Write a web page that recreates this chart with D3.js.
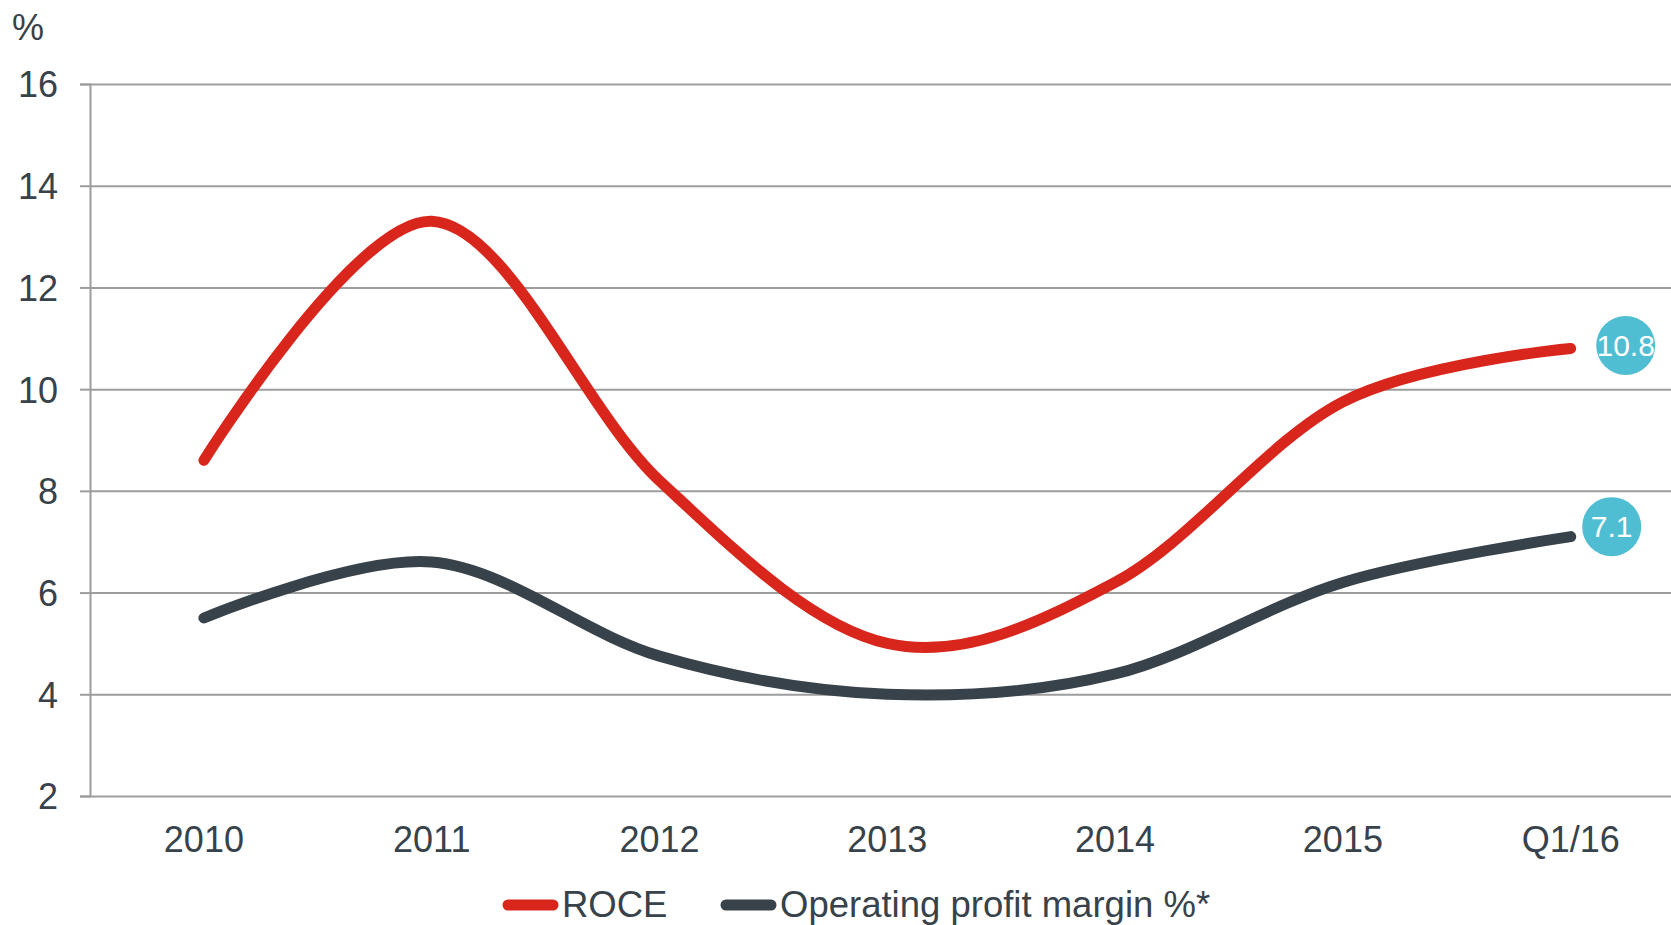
<!DOCTYPE html>
<html><head><meta charset="utf-8">
<script src="https://cdn.jsdelivr.net/npm/d3@7"></script>
<style>
html,body{margin:0;padding:0;background:#fff;}
svg{display:block;font-family:"Liberation Sans",Arial,sans-serif;}
</style></head>
<body>
<svg id="chart" width="1671" height="925"></svg>
<script>
const categories = ["2010","2011","2012","2013","2014","2015","Q1/16"];
const roce = [8.6, 13.3, 8.2, 5.0, 6.2, 9.75, 10.8];
const opMargin = [5.5, 6.6, 4.75, 4.0, 4.4, 6.2, 7.1];
const yTicks = [2,4,6,8,10,12,14,16];
const seriesNames = ["ROCE","Operating profit margin %*"];
const lastLabels = ["10.8","7.1"];

const W = 1671, H = 925;
const svg = d3.select("#chart");
const plotLeft = 90, plotTop = 84, plotBottom = 796;
const band = 227.8;

const x = d3.scaleBand().domain(categories).range([plotLeft, plotLeft + band*categories.length]).padding(0);
const cx = d => x(d) + x.bandwidth()/2;
const y = d3.scaleLinear().domain([2,16]).range([plotBottom, plotTop]);

const textCol = "#37424a", gridCol = "#9d9d9d";

// gridlines + y axis ticks
const yAxis = d3.axisLeft(y).tickValues(yTicks).tickSize(10).tickPadding(22).tickFormat(d3.format("d"));
const gy = svg.append("g").attr("transform", `translate(${plotLeft},0)`).call(yAxis);
gy.select(".domain").attr("stroke", gridCol).attr("stroke-width", 2);
gy.selectAll(".tick line").attr("stroke", gridCol).attr("stroke-width", 2);
gy.selectAll(".tick text").attr("fill", textCol).attr("font-size", 36).attr("font-family", "Liberation Sans, Arial, sans-serif").attr("dy", "0.36em");
gy.selectAll(".tick").append("line").attr("x1", 0).attr("x2", W - plotLeft).attr("stroke", gridCol).attr("stroke-width", 2);

// x labels
const xAxis = d3.axisBottom(x).tickSize(0).tickPadding(30);
const gx = svg.append("g").attr("transform", `translate(0,${plotBottom})`).call(xAxis);
gx.select(".domain").remove();
gx.selectAll(".tick text").attr("fill", textCol).attr("font-size", 36).attr("font-family", "Liberation Sans, Arial, sans-serif");

// unit label
svg.append("text").attr("x", 12).attr("y", 40).attr("fill", textCol).attr("font-size", 36).text("%");

// lines
const line = d3.line().x((d,i) => cx(categories[i])).y(d => y(d)).curve(d3.curveCardinal.tension(0));
const colors = ["#d9261c", "#37424a"];
[roce, opMargin].forEach((s, k) => {
  svg.append("path").datum(s).attr("d", line).attr("fill", "none")
    .attr("stroke", colors[k]).attr("stroke-width", 11).attr("stroke-linecap", "round").attr("stroke-linejoin", "round");
});

// end labels
const offs = [[55,-3],[41,-10]];
[roce, opMargin].forEach((s, k) => {
  const lx = cx(categories[categories.length-1]) + offs[k][0];
  const ly = y(s[s.length-1]) + offs[k][1];
  svg.append("circle").attr("cx", lx).attr("cy", ly).attr("r", 29.5).attr("fill", "#4fbdd2");
  svg.append("text").attr("x", lx).attr("y", ly).attr("dy", "0.36em").attr("text-anchor", "middle")
    .attr("fill", "#fff").attr("font-size", 30).text(lastLabels[k]);
});

// legend
const legY = 905;
const leg = [{x0:503, name:seriesNames[0], c:colors[0]}, {x0:721, name:seriesNames[1], c:colors[1]}];
leg.forEach(l => {
  svg.append("line").attr("x1", l.x0+5).attr("x2", l.x0+50).attr("y1", legY).attr("y2", legY)
    .attr("stroke", l.c).attr("stroke-width", 11).attr("stroke-linecap", "round");
  svg.append("text").attr("x", l.x0+59).attr("y", legY+12).attr("fill", textCol).attr("font-size", 36.5).text(l.name);
});
</script>
</body></html>
